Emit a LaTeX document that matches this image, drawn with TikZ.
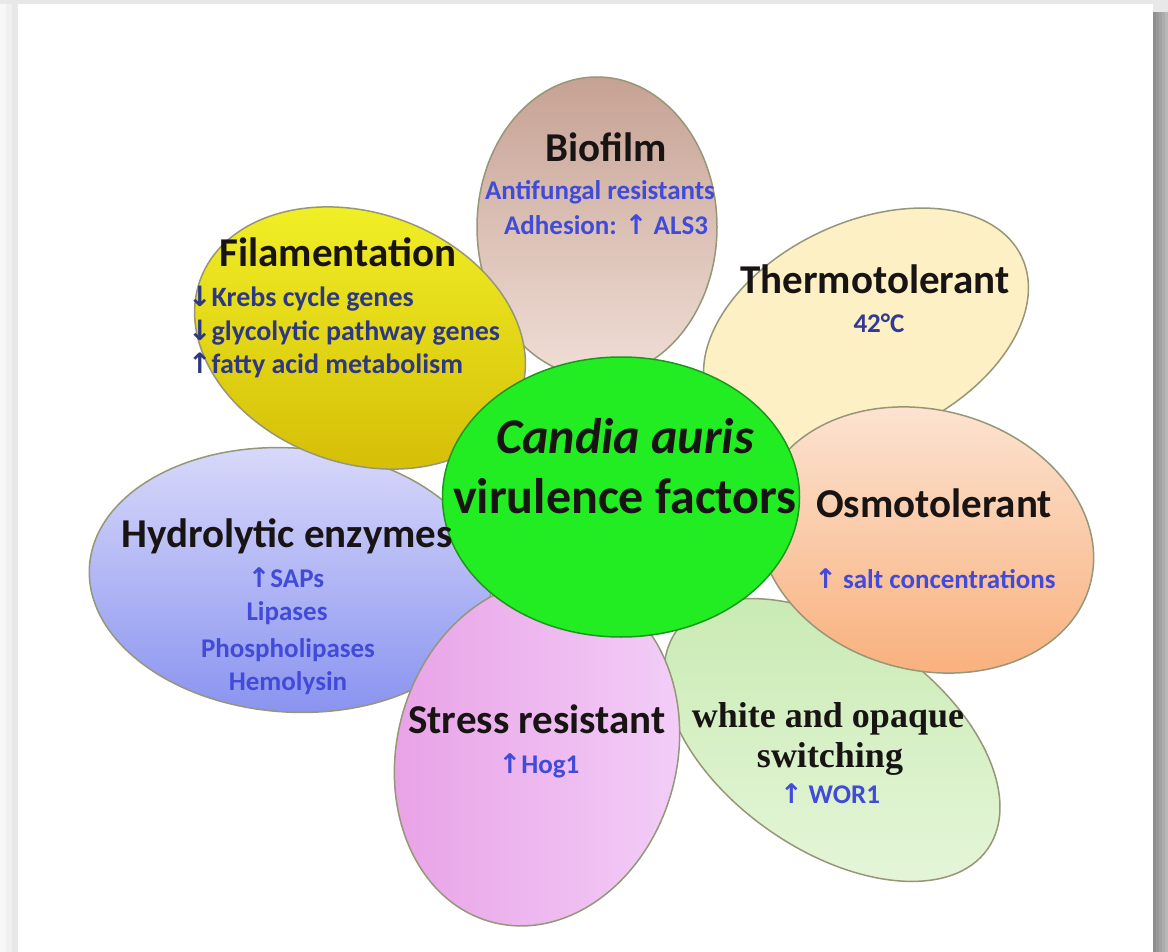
\documentclass[tikz,border=0pt]{standalone}
\usepackage{fontspec}
\setmainfont{Carlito}
\newfontfamily\arrfont{DejaVu Sans}
\newfontfamily\serifb{Liberation Serif}
\usetikzlibrary{shapes.geometric}
\definecolor{edgec}{RGB}{150,150,120}
\definecolor{headc}{RGB}{25,20,20}
\definecolor{subc}{RGB}{65,75,215}
\definecolor{navyc}{RGB}{45,55,130}
\definecolor{bioT}{RGB}{198,162,148}
\definecolor{bioB}{RGB}{240,222,214}
\definecolor{filT}{RGB}{242,242,40}
\definecolor{filB}{RGB}{214,192,8}
\definecolor{therm}{RGB}{252,240,196}
\definecolor{osmT}{RGB}{252,230,214}
\definecolor{osmB}{RGB}{249,178,128}
\definecolor{grnT}{RGB}{200,234,178}
\definecolor{grnB}{RGB}{230,246,218}
\definecolor{pnkT}{RGB}{243,208,248}
\definecolor{pnkB}{RGB}{232,160,230}
\definecolor{bluT}{RGB}{218,218,250}
\definecolor{bluB}{RGB}{138,148,240}
\definecolor{ctrF}{RGB}{34,236,34}
\definecolor{ctrE}{RGB}{30,150,30}
\definecolor{shadL}{RGB}{232,232,232}
\begin{document}
\begin{tikzpicture}[x=1pt,y=-1pt,
  petal/.style={ellipse, draw=edgec, line width=1.5pt, inner sep=0pt},
  head/.style={font=\fontsize{41}{46}\selectfont\bfseries, text=headc, anchor=base, inner sep=0pt},
  sub/.style={font=\fontsize{27}{32}\selectfont\bfseries, text=subc, anchor=base, inner sep=0pt},
  nsub/.style={font=\fontsize{28}{32}\selectfont\bfseries, text=navyc, anchor=base west, inner sep=0pt},
  ctext/.style={font=\fontsize{50}{56}\selectfont\bfseries, text=headc, anchor=base, inner sep=0pt},
  stext/.style={font=\fontsize{36}{40}\selectfont\serifb\bfseries, text=headc, anchor=base, inner sep=0pt}]
\useasboundingbox (0,0) rectangle (1168,952);
% frame and shadows
\fill[shadL] (0,0) rectangle (1168,952);
\fill[black!3] (0,4) rectangle (6,952);
\fill[black!6] (6,4) rectangle (12,952);
\fill[black!9] (12,4) rectangle (18,952);
\fill[black!44] (1153,12) rectangle (1156,952);
\fill[black!40] (1156,12) rectangle (1159,952);
\fill[black!36] (1159,12) rectangle (1162,952);
\fill[black!32] (1162,12) rectangle (1165,952);
\fill[black!28] (1165,12) rectangle (1168,952);
\fill[white] (18,4) rectangle (1153,952);
% petals
\node[petal, minimum width=380pt, minimum height=220pt, rotate=-35, top color=grnT, bottom color=grnB] (pgrn) at (832,740) {};
\node[petal, minimum width=402pt, minimum height=264pt, rotate=-4, top color=bluT, bottom color=bluB] (pblu) at (290,580) {};
\node[petal, minimum width=350pt, minimum height=280pt, rotate=75, left color=pnkB, right color=pnkT] (ppnk) at (537,753) {};
\node[petal, minimum width=240pt, minimum height=300pt, top color=bioT, bottom color=bioB] (pbio) at (597,227) {};
\node[petal, minimum width=340pt, minimum height=250pt, rotate=-20, top color=filT, bottom color=filB] (pfil) at (360,338) {};
\node[petal, minimum width=344pt, minimum height=216pt, rotate=25, fill=therm] (pthm) at (866,330) {};
\node[petal, minimum width=340pt, minimum height=260pt, rotate=-15, top color=osmT, bottom color=osmB] (posm) at (926,540) {};
% centre
\node[ellipse, draw=ctrE, line width=1.5pt, fill=ctrF, minimum width=357pt, minimum height=280pt, inner sep=0pt] (ctr) at (621,497) {};
% texts
\node[head] (tbio) at (606,162) {Biofilm};
\node[sub] (tbio1) at (600,200) {Antifungal resistants};
\node[sub] (tbio2) at (606,235) {Adhesion: {\arrfont ↑} ALS3};
\node[head] (tfil) at (338,267) {Filamentation};
\node[nsub] (tfil1) at (188,307) {{\arrfont ↓}Krebs cycle genes};
\node[nsub] (tfil2) at (188,340) {{\arrfont ↓}glycolytic pathway genes};
\node[nsub] (tfil3) at (188,373) {{\arrfont ↑}fatty acid metabolism};
\node[head] (tthm) at (875,294) {Thermotolerant};
\node[sub, text=navyc!80!subc] (tthm1) at (879,332) {42°C};
\node[head] (tosm) at (934,517) {Osmotolerant};
\node[sub] (tosm1) at (935,588) {{\arrfont ↑} salt concentrations};
\node[ctext] (tc1) at (625,453) {\itshape Candia auris};
\node[ctext] (tc2) at (625,513) {virulence factors};
\node[head] (thyd) at (287,547) {Hydrolytic enzymes};
\node[sub] (thyd1) at (286,587) {{\arrfont ↑}SAPs};
\node[sub] (thyd2) at (287,620) {Lipases};
\node[sub] (thyd3) at (288,657) {Phospholipases};
\node[sub] (thyd4) at (288,690) {Hemolysin};
\node[head] (tstr) at (537,733) {Stress resistant};
\node[sub] (tstr1) at (539,773) {{\arrfont ↑}Hog1};
\node[stext] (tsw1) at (828,727) {white and opaque};
\node[stext] (tsw2) at (830,767) {switching};
\node[sub] (tsw3) at (830,803) {{\arrfont ↑} WOR1};
\end{tikzpicture}
\end{document}
